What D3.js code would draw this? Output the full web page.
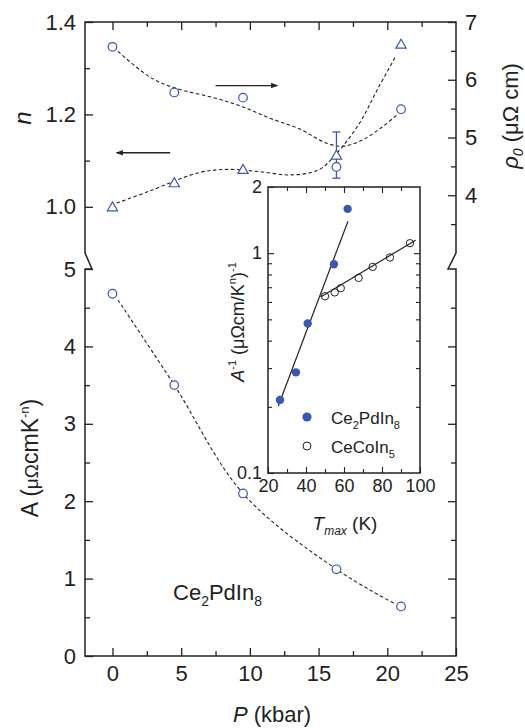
<!DOCTYPE html>
<html>
<head>
<meta charset="utf-8">
<script src="https://cdn.jsdelivr.net/npm/d3@7"></script>
<style>
  body { margin: 0; background: #fff; }
  svg { display: block; font-family: "Liberation Sans", Arial, sans-serif; }
  .axis text { fill: #222; }
  .axis line { stroke: #222; stroke-width: 1.3; }
</style>
</head>
<body>
<div id="chart"></div>
<script>
// ---- data ----
const pressure = [0, 4.5, 9.5, 16.3, 21];          // kbar
const nValues = [1.0, 1.052, 1.081, 1.112, 1.352];  // exponent n (triangles)
const nErr = [0, 0, 0, 0.05, 0];                    // only the 16 kbar point has a bar
const rho0Values = [6.57, 5.78, 5.69, 4.49, 5.49];  // residual resistivity (circles)
const aValues = [4.68, 3.50, 2.10, 1.12, 0.64];     // A coefficient

// dashed guide lines
const nGuide = [[0.3, 1.008], [2.7, 1.034], [6.3, 1.074], [8.5, 1.081], [10.7, 1.076], [13.0, 1.069], [15.0, 1.080], [16.3, 1.115], [18.0, 1.182], [19.3, 1.255], [20.6, 1.325]];
const rhoGuide = [[0.4, 6.49], [2.7, 6.05], [4.5, 5.86], [7.5, 5.68], [9.5, 5.53], [11.5, 5.33], [13.6, 5.15], [15.6, 4.90], [16.8, 4.85], [18.2, 4.96], [19.5, 5.16], [20.7, 5.39]];
const aGuide = [[0.4, 4.60], [4.5, 3.50], [9.5, 2.10], [16.3, 1.12], [20.6, 0.67]];

// inset: 1/A vs Tmax
const pdTmax = [26.3, 34.7, 40.9, 54.7, 61.9];
const pdInvA = [0.215, 0.287, 0.479, 0.891, 1.59];
const coTmax = [50, 55.1, 58.3, 67.7, 75.1, 84.2, 94.7];
const coInvA = [0.637, 0.663, 0.693, 0.772, 0.866, 0.956, 1.11];
const pdFit = [[25.4, 0.2016], [62.1, 1.398]];
const coFit = [[47.7, 0.632], [97.7, 1.146]];

const legendNames = [["Ce", "2", "PdIn", "8"], ["CeCoIn", "5"]];

// ---- layout ----
const width = 525, height = 728;
const blue = "#3a58b0", ink = "#222";

const svg = d3.select("#chart").append("svg")
    .attr("width", width).attr("height", height);

svg.append("defs").append("marker")
    .attr("id", "arrow").attr("viewBox", "0 0 10 10")
    .attr("refX", 9).attr("refY", 5)
    .attr("markerWidth", 9).attr("markerHeight", 7)
    .attr("markerUnits", "userSpaceOnUse")
    .attr("orient", "auto")
    .append("path").attr("d", "M0,1 L10,5 L0,9 Z").attr("fill", ink);

const x = d3.scaleLinear().domain([-2, 25]).range([85, 456]);
const yN = d3.scaleLinear().domain([0.9, 1.4]).range([253, 22]);
const yRho = d3.scaleLinear().domain([3, 7]).range([253, 22]);
const yA = d3.scaleLinear().domain([0, 5]).range([656, 269]);

// frame with axis breaks
svg.append("path")
    .attr("d", "M85,22 V253 L92,269 H85 V656 H456 V269 H448 L456,253 V22 Z")
    .attr("fill", "none").attr("stroke", ink).attr("stroke-width", 1.5);

function ticks(axis, values, size, labels, tr) {
    const g = svg.append("g").attr("class", "axis")
        .attr("transform", tr)
        .call(axis.tickValues(values).tickSize(-size).tickPadding(9)
            .tickFormat(labels ? labels : ""));
    g.select(".domain").remove();
    g.selectAll("text").style("font-size", "22px");
    return g;
}
// left
ticks(d3.axisLeft(yN), [1.0, 1.2, 1.4], 8, d3.format(".1f"), "translate(85,0)");
ticks(d3.axisLeft(yN), [1.1, 1.3], 5, null, "translate(85,0)");
ticks(d3.axisLeft(yA), [0, 1, 2, 3, 4, 5], 8, d3.format("d"), "translate(85,0)");
ticks(d3.axisLeft(yA), [0.5, 1.5, 2.5, 3.5, 4.5], 5, null, "translate(85,0)");
// right
ticks(d3.axisRight(yRho), [4, 5, 6, 7], 8, d3.format("d"), "translate(456,0)");
ticks(d3.axisRight(yRho), [3.5, 4.5, 5.5, 6.5], 5, null, "translate(456,0)");
ticks(d3.axisRight(yA), [1, 2, 3, 4], 8, null, "translate(456,0)");
ticks(d3.axisRight(yA), [0.5, 1.5, 2.5, 3.5, 4.5], 5, null, "translate(456,0)");
// bottom / top
ticks(d3.axisBottom(x), [0, 5, 10, 15, 20, 25], 8, d3.format("d"), "translate(0,656)");
ticks(d3.axisBottom(x), [2.5, 7.5, 12.5, 17.5, 22.5], 5, null, "translate(0,656)");
ticks(d3.axisTop(x), [0, 5, 10, 15, 20], 8, null, "translate(0,22)");
ticks(d3.axisTop(x), [2.5, 7.5, 12.5, 17.5, 22.5], 5, null, "translate(0,22)");

// axis titles
svg.append("text").attr("transform", "translate(31,118) rotate(-90)")
    .attr("text-anchor", "middle").attr("font-size", 24).attr("font-style", "italic")
    .attr("fill", ink).text("n");

const rhoT = svg.append("text").attr("transform", "translate(518,116) rotate(-90)")
    .attr("text-anchor", "middle").attr("font-size", 22).attr("fill", ink);
rhoT.append("tspan").attr("font-style", "italic").text("ρ");
rhoT.append("tspan").attr("font-style", "italic").attr("font-size", 14).attr("dy", 5).text("0");
rhoT.append("tspan").attr("dy", -5).text(" (μΩ cm)");

const aT = svg.append("text").attr("transform", "translate(38,458) rotate(-90)")
    .attr("text-anchor", "middle").attr("font-size", 23).attr("fill", ink);
aT.append("tspan").text("A (");
aT.append("tspan").attr("font-size", 19).text("μΩ");
aT.append("tspan").text("cmK");
aT.append("tspan").attr("font-size", 13).attr("dy", -9).text("-n");
aT.append("tspan").attr("dy", 9).text(")");

const pT = svg.append("text").attr("x", 272).attr("y", 722)
    .attr("text-anchor", "middle").attr("font-size", 22).attr("fill", ink);
pT.append("tspan").attr("font-style", "italic").text("P");
pT.append("tspan").text(" (kbar)");

const ceT = svg.append("text").attr("x", 173).attr("y", 600)
    .attr("font-size", 22).attr("fill", ink);
ceT.append("tspan").text("Ce");
ceT.append("tspan").attr("font-size", 14).attr("dy", 6).text("2");
ceT.append("tspan").attr("dy", -6).text("PdIn");
ceT.append("tspan").attr("font-size", 14).attr("dy", 6).text("8");

// guide curves
const dash = (scaleY, pts) => svg.append("path")
    .attr("d", d3.line().x(d => x(d[0])).y(d => scaleY(d[1])).curve(d3.curveCatmullRom)(pts))
    .attr("fill", "none").attr("stroke", ink).attr("stroke-width", 1.1)
    .attr("stroke-dasharray", "3.5,2.5");
dash(yN, nGuide);
dash(yRho, rhoGuide);
dash(yA, aGuide);

// arrows
svg.append("line").attr("x1", x(7.5)).attr("x2", x(12)).attr("y1", yRho(5.9)).attr("y2", yRho(5.9))
    .attr("stroke", ink).attr("stroke-width", 1.3).attr("marker-end", "url(#arrow)");
svg.append("line").attr("x1", x(4.2)).attr("x2", x(0.3)).attr("y1", yN(1.117)).attr("y2", yN(1.117))
    .attr("stroke", ink).attr("stroke-width", 1.3).attr("marker-end", "url(#arrow)");

// error bar on n
pressure.forEach((p, i) => {
    if (!nErr[i]) return;
    const g = svg.append("g").attr("stroke", blue).attr("stroke-width", 1.3);
    g.append("line").attr("x1", x(p)).attr("x2", x(p))
        .attr("y1", yN(nValues[i] - nErr[i])).attr("y2", yN(nValues[i] + nErr[i]));
    [nValues[i] - nErr[i], nValues[i] + nErr[i]].forEach(v =>
        g.append("line").attr("x1", x(p) - 4).attr("x2", x(p) + 4)
            .attr("y1", yN(v)).attr("y2", yN(v)));
});

// markers
const tri = d3.symbol(d3.symbolTriangle, 46);
svg.selectAll(".tri").data(pressure).join("path")
    .attr("transform", (d, i) => `translate(${x(d)},${yN(nValues[i]) + 1})`)
    .attr("d", tri).attr("fill", "#fff").attr("stroke", blue).attr("stroke-width", 1.2);
svg.selectAll(".rho").data(pressure).join("circle")
    .attr("cx", d => x(d)).attr("cy", (d, i) => yRho(rho0Values[i])).attr("r", 4.3)
    .attr("fill", "#fff").attr("stroke", blue).attr("stroke-width", 1.2);
svg.selectAll(".aa").data(pressure).join("circle")
    .attr("cx", d => x(d)).attr("cy", (d, i) => yA(aValues[i])).attr("r", 4.3)
    .attr("fill", "#fff").attr("stroke", blue).attr("stroke-width", 1.2);

// ---- inset ----
const ix = d3.scaleLinear().domain([20, 100]).range([268, 420]);
const iy = d3.scaleLog().domain([0.1, 2]).range([473, 187]);

svg.append("rect").attr("x", 268).attr("y", 187).attr("width", 152).attr("height", 286)
    .attr("fill", "#fff").attr("stroke", ink).attr("stroke-width", 1.5);

function iticks(axis, values, size, labels, tr) {
    const g = svg.append("g").attr("class", "axis").attr("transform", tr)
        .call(axis.tickValues(values).tickSize(-size).tickPadding(6)
            .tickFormat(labels ? labels : ""));
    g.select(".domain").remove();
    g.selectAll("text").style("font-size", "18px");
    g.selectAll("line").style("stroke-width", 1.1);
}
const minorY = [0.2, 0.3, 0.4, 0.5, 0.6, 0.7, 0.8, 0.9];
iticks(d3.axisBottom(ix), [20, 40, 60, 80, 100], 6, d3.format("d"), "translate(0,473)");
iticks(d3.axisBottom(ix), [30, 50, 70, 90], 4, null, "translate(0,473)");
iticks(d3.axisTop(ix), [40, 60, 80], 6, null, "translate(0,187)");
iticks(d3.axisTop(ix), [30, 50, 70, 90], 4, null, "translate(0,187)");
iticks(d3.axisLeft(iy), [0.1, 1, 2], 6, d => d === 0.1 ? "0.1" : d3.format("d")(d), "translate(268,0)");
iticks(d3.axisLeft(iy), minorY, 4, null, "translate(268,0)");
iticks(d3.axisRight(iy), [1], 6, null, "translate(420,0)");
iticks(d3.axisRight(iy), minorY, 4, null, "translate(420,0)");

const fitLine = d3.line().x(d => ix(d[0])).y(d => iy(d[1]));
[pdFit, coFit].forEach(f => svg.append("path").attr("d", fitLine(f))
    .attr("fill", "none").attr("stroke", ink).attr("stroke-width", 1.2));

svg.selectAll(".co").data(coTmax).join("circle")
    .attr("cx", d => ix(d)).attr("cy", (d, i) => iy(coInvA[i])).attr("r", 3.7)
    .attr("fill", "none").attr("stroke", ink).attr("stroke-width", 1);
svg.selectAll(".pd").data(pdTmax).join("circle")
    .attr("cx", d => ix(d)).attr("cy", (d, i) => iy(pdInvA[i])).attr("r", 4.2)
    .attr("fill", blue);

// inset legend
svg.append("circle").attr("cx", 307).attr("cy", 417).attr("r", 4.6).attr("fill", blue);
svg.append("circle").attr("cx", 307).attr("cy", 446).attr("r", 4).attr("fill", "none")
    .attr("stroke", ink).attr("stroke-width", 1);
legendNames.forEach((parts, k) => {
    const t = svg.append("text").attr("x", 331).attr("y", 424 + k * 29)
        .attr("font-size", 17).attr("fill", ink);
    parts.forEach((s, j) => t.append("tspan")
        .attr("font-size", j % 2 ? 11 : 17)
        .attr("dy", j === 0 ? 0 : (j % 2 ? 5 : -5)).text(s));
});

// inset titles
const tT = svg.append("text").attr("x", 345).attr("y", 530)
    .attr("text-anchor", "middle").attr("font-size", 19).attr("fill", ink);
tT.append("tspan").attr("font-style", "italic").text("T");
tT.append("tspan").attr("font-style", "italic").attr("font-size", 12).attr("dy", 5).text("max");
tT.append("tspan").attr("dy", -5).text(" (K)");

const iT = svg.append("text").attr("transform", "translate(244,322) rotate(-90)")
    .attr("text-anchor", "middle").attr("font-size", 18).attr("fill", ink);
iT.append("tspan").attr("font-style", "italic").text("A");
iT.append("tspan").attr("font-size", 11).attr("dy", -8).text("-1");
iT.append("tspan").attr("dy", 8).text(" (μΩcm/K");
iT.append("tspan").attr("font-size", 11).attr("dy", -8).text("n");
iT.append("tspan").attr("dy", 8).text(")");
iT.append("tspan").attr("font-size", 11).attr("dy", -8).text("-1");
</script>
</body>
</html>
